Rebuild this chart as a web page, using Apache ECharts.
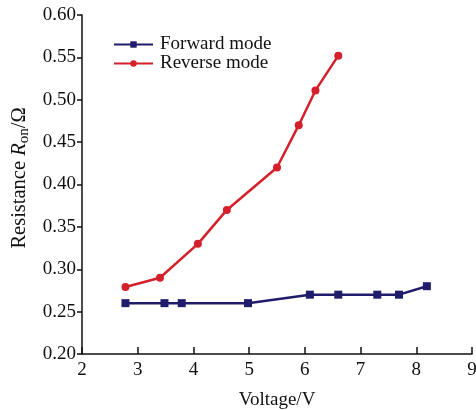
<!DOCTYPE html>
<html>
<head>
<meta charset="utf-8">
<script src="https://cdn.jsdelivr.net/npm/echarts@6/dist/echarts.min.js"></script>
<style>
  html, body { margin: 0; padding: 0; background: #fff; }
  #chart { width: 476px; height: 410px; }
</style>
</head>
<body>
<div id="chart"></div>
<script>
// Forward mode measurements: voltage (V) and on-resistance (Ω)
var forwardVoltage = [2.78, 3.48, 3.79, 4.98, 6.09, 6.6, 7.3, 7.69, 8.19];
var forwardResistance = [0.26, 0.26, 0.26, 0.26, 0.27, 0.27, 0.27, 0.27, 0.28];

// Reverse mode measurements
var reverseVoltage = [2.78, 3.4, 4.08, 4.6, 5.5, 5.89, 6.19, 6.6];
var reverseResistance = [0.279, 0.29, 0.33, 0.37, 0.42, 0.47, 0.511, 0.552];

var seriesNames = ['Forward mode', 'Reverse mode'];
var xAxisTitle = 'Voltage/V';

function pairs(xs, ys) {
  return xs.map(function (x, i) { return [x, ys[i]]; });
}

var serif = '"Liberation Serif", "Times New Roman", serif';
var navy = '#1f1d6b';
var red = '#d4202a';

var chart = echarts.init(document.getElementById('chart'), null, { renderer: 'canvas' });
chart.setOption({
  animation: false,
  backgroundColor: '#fff',
  grid: {
    left: 82, right: 4, top: 15, bottom: 56,
    containLabel: false,
    outerBoundsMode: 'none'
  },
  legend: {
    left: 108,
    top: 30,
    orient: 'vertical',
    itemGap: 0,
    itemWidth: 39,
    itemHeight: 8,
    textStyle: { fontFamily: serif, fontSize: 19, color: '#111', padding: [0, 0, 0, 2] },
    lineStyle: { width: 2 },
    data: seriesNames
  },
  xAxis: {
    type: 'value',
    min: 2, max: 9, interval: 1,
    name: xAxisTitle,
    nameLocation: 'middle',
    nameGap: 37,
    nameTextStyle: { fontFamily: serif, fontSize: 19, color: '#111' },
    axisLine: { lineStyle: { color: '#111', width: 1.5 } },
    axisTick: { inside: true, length: 7, lineStyle: { color: '#111', width: 1.5 } },
    axisLabel: { fontFamily: serif, fontSize: 19, color: '#111', margin: 7 },
    splitLine: { show: false }
  },
  yAxis: {
    type: 'value',
    min: 0.2, max: 0.6, interval: 0.05,
    axisLine: { show: true, lineStyle: { color: '#111', width: 1.5 } },
    axisTick: { show: true, inside: false, length: 5, lineStyle: { color: '#111', width: 1.5 } },
    axisLabel: {
      fontFamily: serif, fontSize: 19, color: '#111', margin: 6,
      formatter: function (v) { return v.toFixed(2); }
    },
    splitLine: { show: false }
  },
  graphic: [{
    type: 'text',
    x: 20,
    y: 178,
    rotation: Math.PI / 2,
    style: {
      text: '{n|Resistance }{i|R}{s|on}{n|/Ω}',
      align: 'center',
      verticalAlign: 'middle',
      fill: '#111',
      rich: {
        n: { fontFamily: serif, fontSize: 20.5, fill: '#111' },
        i: { fontFamily: serif, fontSize: 20.5, fontStyle: 'italic', fill: '#111' },
        s: { fontFamily: serif, fontSize: 15, fill: '#111', padding: [9, 0, 0, 0] }
      }
    }
  }],
  series: [{
    name: seriesNames[0],
    type: 'line',
    data: pairs(forwardVoltage, forwardResistance),
    symbol: 'rect',
    symbolSize: 8,
    itemStyle: { color: navy },
    lineStyle: { color: navy, width: 2.5 }
  }, {
    name: seriesNames[1],
    type: 'line',
    data: pairs(reverseVoltage, reverseResistance),
    symbol: 'circle',
    symbolSize: 8,
    itemStyle: { color: red },
    lineStyle: { color: red, width: 2.5 }
  }]
});
</script>
</body>
</html>
